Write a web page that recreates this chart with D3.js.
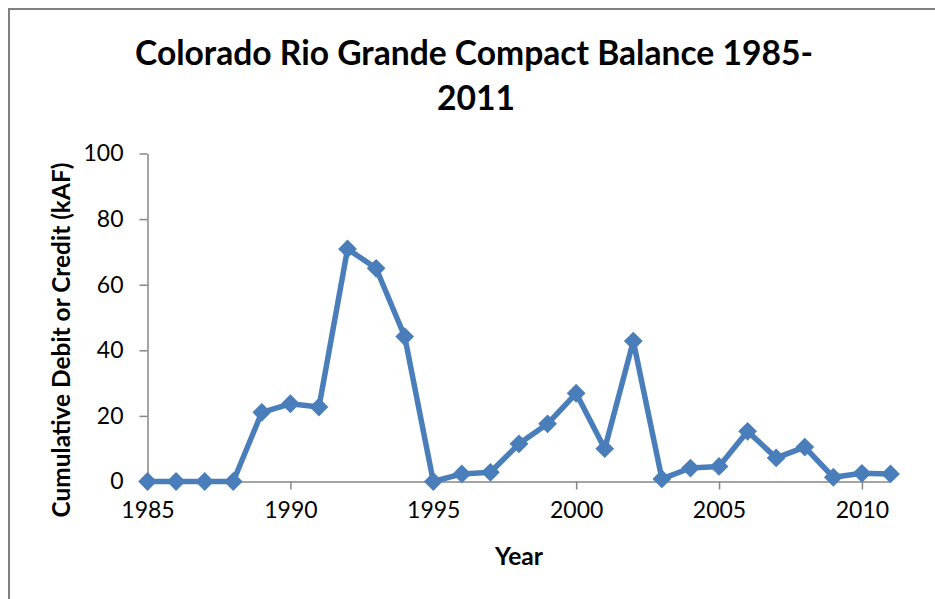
<!DOCTYPE html>
<html><head><meta charset="utf-8">
<script src="https://cdn.jsdelivr.net/npm/d3@7"></script>
<style>body{margin:0;background:#fff}svg{display:block}</style>
</head><body>
<svg id="c" width="935" height="599"></svg>
<script>
const years = [1985,1986,1987,1988,1989,1990,1991,1992,1993,1994,1995,1996,1997,1998,1999,2000,2001,2002,2003,2004,2005,2006,2007,2008,2009,2010,2011];
const balance = [0,0,0,0,21.1,23.7,22.7,70.9,65.0,44.2,0,2.3,2.8,11.5,17.6,26.9,10.0,42.8,0.8,4.1,4.6,15.3,7.2,10.5,1.3,2.5,2.3];
const xTicks = [1985,1990,1995,2000,2005,2010];
const yTicks = [0,20,40,60,80,100];
const titleLines = ["Colorado Rio Grande Compact Balance 1985-","2011"];
const xTitle = "Year";
const yTitle = "Cumulative Debit or Credit (kAF)";

const svg = d3.select("#c");
const FONT = "Lato, 'Open Sans', sans-serif";
const AXIS = "#868686";
const BLUE = "#4a7ebb";

// chart frame
svg.append("rect").attr("x",9).attr("y",9).attr("width",960).attr("height",640)
  .attr("fill","#fff").attr("stroke","#808080").attr("stroke-width",2);

const x = d3.scaleLinear().domain([1985,2011]).range([147.5,890.5]);
const y = d3.scaleLinear().domain([0,100]).range([481.5,153.5]);

function fit(sel, target){
  const w = sel.node().getComputedTextLength();
  const fs = parseFloat(sel.attr("font-size"));
  sel.attr("font-size", fs*target/w);
}

// title
const t1 = svg.append("text").attr("x",474).attr("y",65).attr("text-anchor","middle")
  .attr("font-family",FONT).attr("font-weight",700).attr("font-size",28).attr("fill","#000").text(titleLines[0]);
fit(t1, 678);
const t2 = svg.append("text").attr("x",476).attr("y",110).attr("text-anchor","middle")
  .attr("font-family",FONT).attr("font-weight",700).attr("font-size",t1.attr("font-size")).attr("fill","#000").text(titleLines[1]);

// y axis
const yAxis = svg.append("g").attr("transform",`translate(${x(1985)},0)`)
  .call(d3.axisLeft(y).tickValues(yTicks).tickSize(8).tickPadding(16).tickSizeOuter(0));
yAxis.select(".domain").attr("stroke",AXIS).attr("stroke-width",1.5);
yAxis.selectAll(".tick line").attr("stroke",AXIS).attr("stroke-width",1.5);
yAxis.selectAll(".tick text").attr("font-family",FONT).attr("font-size",23).attr("fill","#000");

// x axis
const xAxis = svg.append("g").attr("transform",`translate(0,${y(0)})`)
  .call(d3.axisBottom(x).tickValues(xTicks).tickFormat(d3.format("d")).tickSize(8).tickPadding(12).tickSizeOuter(0));
xAxis.select(".domain").attr("stroke",AXIS).attr("stroke-width",1.5);
xAxis.selectAll(".tick line").attr("stroke",AXIS).attr("stroke-width",1.5);
xAxis.selectAll(".tick text").attr("font-family",FONT).attr("font-size",23).attr("fill","#000");

// axis titles
const xt = svg.append("text").attr("x",519).attr("y",565).attr("text-anchor","middle")
  .attr("font-family",FONT).attr("font-weight",700).attr("font-size",20).attr("fill","#000").text(xTitle);
fit(xt, 48);
const yt = svg.append("text").attr("transform","translate(70,340) rotate(-90)").attr("text-anchor","middle")
  .attr("font-family",FONT).attr("font-weight",700).attr("font-size",20).attr("fill","#000").text(yTitle);
fit(yt, 355);

// series
const data = years.map((yr,i)=>({yr, v:balance[i]}));
svg.append("path").datum(data)
  .attr("fill","none").attr("stroke",BLUE).attr("stroke-width",5.5).attr("stroke-linejoin","round")
  .attr("d", d3.line().x(d=>x(d.yr)).y(d=>y(d.v)));
svg.append("g").selectAll("path").data(data).join("path")
  .attr("transform",d=>`translate(${x(d.yr)},${y(d.v)})`)
  .attr("d", d3.symbol().type(d3.symbolDiamond2).size(225))
  .attr("fill",BLUE);
</script>
</body></html>
